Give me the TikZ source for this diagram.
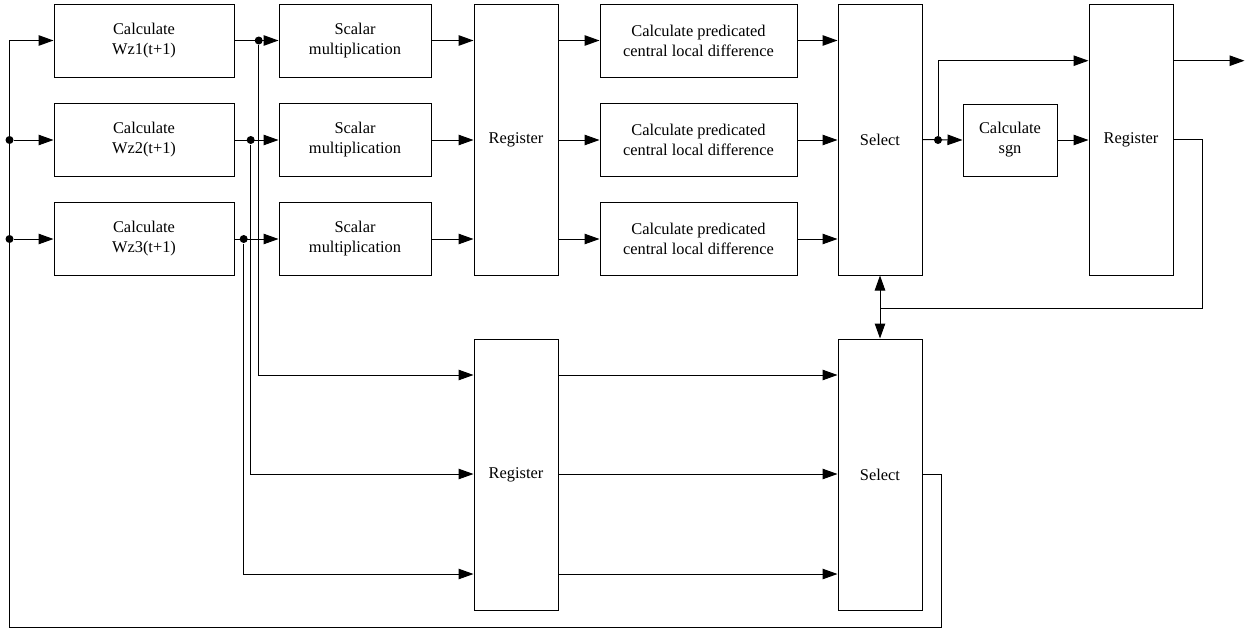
\documentclass[tikz,border=0pt]{standalone}
\usepackage{fontspec}
\setmainfont{Liberation Serif}
\usetikzlibrary{arrows.meta,positioning,calc}

\begin{document}
\begin{tikzpicture}[x=1pt, y=-1pt, >={Triangle[length=15pt,width=10.5pt]}, line width=1pt,
  every node/.style={font=\fontsize{16.4}{20}\selectfont},
  blk/.style={draw, align=center, inner sep=0pt, minimum height=73pt},
  tallblk/.style={draw, align=center, inner sep=0pt, minimum width=84pt, minimum height=271pt},
  dot/.style={circle, fill, inner sep=0pt, minimum size=8pt}]
  \useasboundingbox (0,0) rectangle (1245,630);

  % Three parallel rows of blocks
  \foreach \r/\y in {1/40.5, 2/140, 3/239} {
    \node[blk, minimum width=180pt] (wz\r) at (144,\y) {Calculate\\Wz\r(t+1)};
    \node[blk, minimum width=152pt] (sm\r) at (355,\y) {Scalar\\multiplication};
    \node[blk, minimum width=197pt] (cp\r) at (698.5,\y) {Calculate predicated\\central local difference};
  }

  % Tall blocks
  \node[tallblk] (regU) at (516,139.5) {Register};
  \node[tallblk] (selU) at (880,139.5) {Select};
  \node[tallblk] (regO) at (1131,139.5) {Register};
  \node[blk, minimum width=94pt, minimum height=72pt] (sgn) at (1010,140) {Calculate\\sgn};
  \node[tallblk] (regL) at (516,474.5) {Register};
  \node[tallblk] (selL) at (880,474.5) {Select};

  % Row connectors and taps to the lower register
  \foreach \r/\y/\x/\yl in {1/40.5/258.7/375, 2/140/250.7/474, 3/239/243.7/574} {
    \coordinate (lrow\r) at (516,\yl);
    \node[dot] (tap\r) at (\x,\y) {};
    \draw[->] (wz\r.east) -- (sm\r.west);
    \draw[->] (sm\r.east) -- (regU.west |- sm\r);
    \draw[->] (regU.east |- cp\r) -- (cp\r.west);
    \draw[->] (cp\r.east) -- (selU.west |- cp\r);
    \draw[->] (tap\r) |- (regL.west |- lrow\r);
    \draw[->] (regL.east |- lrow\r) -- (selL.west |- lrow\r);
  }

  % Feedback bus on the left
  \node[dot] (busB) at (9.5,140) {};
  \node[dot] (busC) at (9.5,239) {};
  \draw[->] (selL.east) -- (941,474.5) -- (941,627) -- (9.5,627) -- (9.5,40.5) -- (wz1.west);
  \draw[->] (busB) -- (wz2.west);
  \draw[->] (busC) -- (wz3.west);

  % Output stage
  \coordinate (hiRow) at (1131,60.7);
  \coordinate (outEnd) at (1244.5,60.7);
  \coordinate (fbMid) at (880,308.7);
  \node[dot] (tapS) at (938,140) {};
  \draw[->] (selU.east) -- (sgn.west);
  \draw[->] (tapS) |- (regO.west |- hiRow);
  \draw[->] (sgn.east) -- (sgn.east -| regO.west);
  \draw[->] (regO.east |- hiRow) -- (outEnd);
  \draw (regO.east) -- (1202,139.5) |- (fbMid);
  \draw[->] (fbMid) -- (selU.south);
  \draw[->] (fbMid) -- (selL.north);
\end{tikzpicture}
\end{document}
